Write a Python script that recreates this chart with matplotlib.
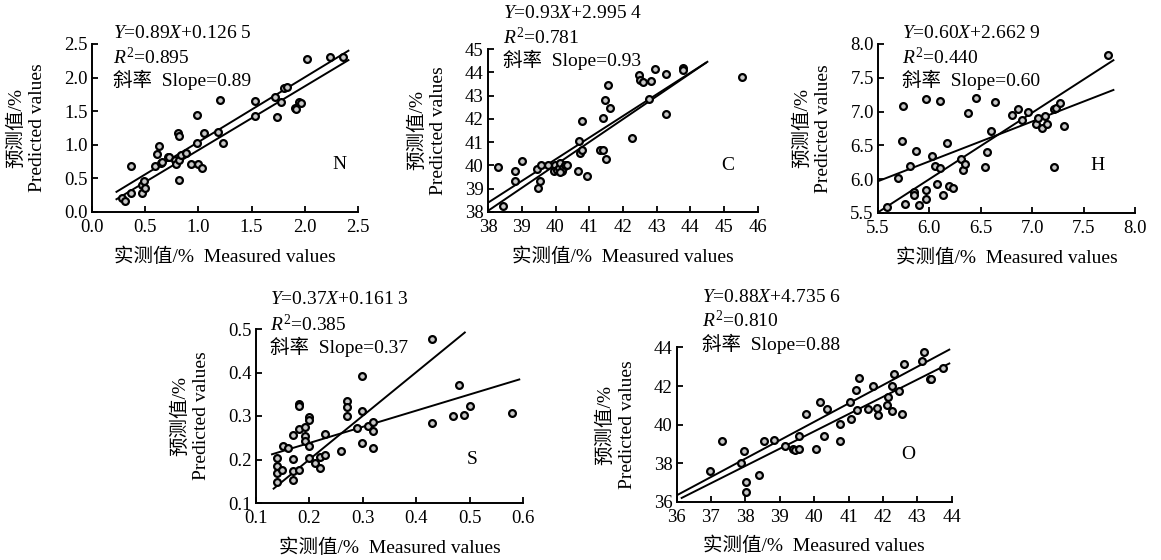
import numpy as np
import matplotlib
matplotlib.use('Agg')
import matplotlib.pyplot as plt

plt.rcParams['font.family'] = ['Liberation Serif', 'Noto Sans CJK SC']
plt.rcParams['mathtext.fontset'] = 'custom'
plt.rcParams['mathtext.rm'] = 'Liberation Serif'
plt.rcParams['mathtext.it'] = 'Liberation Serif:italic'

# =============================================================================
# Data
# =============================================================================
# N
n_x = [0.28, 0.31, 0.37, 0.37, 0.47, 0.47, 0.49, 0.50, 0.59, 0.61, 0.63, 0.65,
       0.66, 0.71, 0.72, 0.78, 0.79, 0.82, 0.81, 0.82, 0.82, 0.84, 0.88, 0.93,
       0.99, 0.99, 1.00, 1.03, 1.05, 1.18, 1.20, 1.23, 1.53, 1.53, 1.72, 1.74,
       1.78, 1.80, 1.83, 1.91, 1.92, 1.95, 1.96, 2.02, 2.24, 2.36]
n_y = [0.21, 0.17, 0.29, 0.68, 0.29, 0.40, 0.46, 0.36, 0.68, 0.87, 0.98, 0.73,
       0.74, 0.82, 0.82, 0.78, 0.71, 0.48, 1.18, 1.13, 0.78, 0.85, 0.88, 0.71,
       1.44, 1.02, 0.71, 0.65, 1.17, 1.19, 1.67, 1.02, 1.65, 1.43, 1.71, 1.41,
       1.64, 1.85, 1.86, 1.55, 1.53, 1.63, 1.62, 2.27, 2.31, 2.30]
n_lines = [([0.23, 2.41], [0.30, 2.40]), ([0.23, 2.41], [0.19, 2.26])]

# C
c_x = [38.31, 38.45, 38.81, 38.81, 39.02, 39.45, 39.47, 39.55, 39.57, 39.79,
       39.98, 39.95, 40.04, 40.11, 40.14, 40.19, 40.22, 40.14, 40.29, 40.34,
       40.66, 40.70, 40.73, 40.78, 40.78, 40.93, 41.32, 41.42, 41.40, 41.49,
       41.46, 41.55, 41.62, 42.26, 42.46, 42.50, 42.60, 42.78, 42.82, 42.95,
       43.27, 43.27, 43.78, 43.78, 45.53]
c_y = [39.92, 38.24, 39.75, 39.35, 40.20, 39.86, 39.03, 39.35, 40.00, 40.03,
       40.03, 39.78, 39.82, 39.89, 40.10, 39.78, 39.89, 39.72, 40.00, 40.03,
       39.75, 41.03, 40.53, 40.68, 41.92, 39.56, 40.68, 40.68, 42.04, 40.28,
       42.82, 43.47, 42.47, 41.18, 43.90, 43.68, 43.57, 42.85, 43.63, 44.14,
       42.21, 43.94, 44.18, 44.11, 43.78]
c_lines = [([38.0, 44.5], [38.40, 44.45]), ([38.0, 44.45], [38.05, 44.40])]

# H
h_x = [5.59, 5.69, 5.73, 5.74, 5.76, 5.81, 5.85, 5.85, 5.87, 5.90, 5.97, 5.97,
       5.97, 6.03, 6.05, 6.07, 6.10, 6.10, 6.13, 6.19, 6.23, 6.17, 6.31, 6.33,
       6.35, 6.38, 6.45, 6.54, 6.56, 6.60, 6.64, 6.80, 6.86, 6.90, 6.96, 7.04,
       7.06, 7.10, 7.12, 7.14, 7.21, 7.23, 7.21, 7.27, 7.31, 7.74]
h_y = [5.59, 6.02, 6.57, 7.09, 5.64, 6.20, 5.81, 5.77, 6.42, 5.62, 5.84, 5.71,
       7.18, 6.34, 6.20, 5.93, 6.16, 7.16, 5.76, 5.90, 5.87, 6.53, 6.30, 6.13,
       6.22, 6.98, 7.20, 6.18, 6.40, 6.72, 7.14, 6.95, 7.04, 6.87, 6.99, 6.82,
       6.91, 6.76, 6.94, 6.82, 7.04, 7.05, 6.18, 7.12, 6.79, 7.84]
h_lines = [([5.5, 7.79], [5.51, 7.76]), ([5.5, 7.79], [5.97, 7.32])]

# S
s_x = [0.140, 0.140, 0.140, 0.140, 0.148, 0.150, 0.159, 0.170, 0.170, 0.170,
       0.170, 0.180, 0.180, 0.180, 0.180, 0.191, 0.191, 0.191, 0.200, 0.200,
       0.200, 0.200, 0.210, 0.220, 0.220, 0.230, 0.230, 0.259, 0.270, 0.270,
       0.270, 0.289, 0.299, 0.299, 0.299, 0.310, 0.320, 0.320, 0.320, 0.429,
       0.429, 0.469, 0.480, 0.489, 0.500, 0.580]
s_y = [0.204, 0.184, 0.169, 0.148, 0.177, 0.231, 0.227, 0.256, 0.201, 0.174,
       0.154, 0.327, 0.323, 0.269, 0.177, 0.274, 0.254, 0.243, 0.298, 0.290,
       0.231, 0.204, 0.191, 0.206, 0.181, 0.259, 0.210, 0.220, 0.334, 0.320,
       0.300, 0.273, 0.393, 0.312, 0.239, 0.277, 0.287, 0.266, 0.227, 0.477,
       0.283, 0.300, 0.371, 0.302, 0.323, 0.306]
s_lines = [([0.133, 0.491], [0.133, 0.492]), ([0.130, 0.593], [0.212, 0.384])]

# O
o_x = [36.97, 37.31, 37.87, 37.96, 38.01, 38.01, 38.40, 38.54, 38.82, 39.15,
       39.38, 39.45, 39.56, 39.56, 39.75, 40.06, 40.18, 40.28, 40.38, 40.74,
       40.74, 41.04, 41.07, 41.21, 41.24, 41.30, 41.56, 41.72, 41.82, 41.86,
       42.11, 42.14, 42.25, 42.27, 42.32, 42.48, 42.55, 42.62, 43.13, 43.20,
       43.37, 43.39, 43.76, 43.72]
o_y = [37.62, 39.13, 38.03, 38.64, 37.05, 36.51, 37.39, 39.13, 39.20, 38.87,
       38.74, 38.66, 38.74, 39.42, 40.56, 38.74, 41.17, 39.40, 40.80, 40.04,
       39.13, 41.20, 40.30, 41.78, 40.77, 42.41, 40.80, 42.02, 40.87, 40.51,
       41.03, 41.41, 42.02, 40.73, 42.64, 41.72, 40.56, 43.16, 43.28, 43.75,
       42.36, 42.36, 42.93, 44.40]
o_lines = [([36.0, 43.93], [36.33, 43.89]), ([36.15, 43.93], [36.20, 43.17])]

eqs = ['0.89$\\mathit{X}$+0.126 5', '0.93$\\mathit{X}$+2.995 4', '0.60$\\mathit{X}$+2.662 9',
       '0.37$\\mathit{X}$+0.161 3', '0.88$\\mathit{X}$+4.735 6']
r2s = ['0.895', '0.781', '0.440', '0.385', '0.810']
slopes = ['0.89', '0.93', '0.60', '0.37', '0.88']
names = ['N', 'C', 'H', 'S', 'O']

# =============================================================================
# Layout
# =============================================================================
W, H = 1161, 560
# axes boxes in pixels: left, right, top, bottom
boxes = [(92, 358, 44, 212), (488, 758, 49, 212), (878, 1135, 44, 213),
         (256, 523, 329, 503), (676.5, 951.7, 347.5, 501.8)]
lims = [((0, 2.5), (0, 2.5)), ((38, 46), (38, 45)), ((5.5, 8.0), (5.5, 8.0)),
        ((0.1, 0.6), (0.1, 0.5)), ((36, 44), (36, 44))]
xticks = [np.arange(0, 2.51, 0.5), np.arange(38, 46.1, 1), np.arange(5.5, 8.01, 0.5),
          np.arange(0.1, 0.61, 0.1), np.arange(36, 44.1, 1)]
yticks = [np.arange(0, 2.51, 0.5), np.arange(38, 45.1, 1), np.arange(5.5, 8.01, 0.5),
          np.arange(0.1, 0.51, 0.1), np.arange(36, 44.1, 2)]
fmts = ['%.1f', '%d', '%.1f', '%.1f', '%d']
# text block top-left (pixels), letter label position (data)
txt_pos = [(113, 33), (503, 13), (902, 33), (270, 300), (702, 297)]
letter_pos = [(2.33, 0.70), (45.1, 40.0), (7.64, 6.21), (0.504, 0.199), (42.73, 38.43)]

xs = [n_x, c_x, h_x, s_x, o_x]
ys = [n_y, c_y, h_y, s_y, o_y]
lines = [n_lines, c_lines, h_lines, s_lines, o_lines]

fig = plt.figure(figsize=(W / 100, H / 100), dpi=100)

for i in range(5):
    l, r, t, b = boxes[i]
    ax = fig.add_axes([l / W, 1 - b / H, (r - l) / W, (b - t) / H])
    for lx, ly in lines[i]:
        ax.plot(lx, ly, color='black', lw=1.4, zorder=2)
    ax.scatter(xs[i], ys[i], s=24, facecolor='#c8c8c8', edgecolor='black',
               linewidth=1.6, zorder=3)
    ax.set_xlim(*lims[i][0])
    ax.set_ylim(*lims[i][1])
    ax.set_xticks(xticks[i])
    ax.set_yticks(yticks[i])
    ax.set_xticklabels([fmts[i] % v for v in xticks[i]])
    ax.set_yticklabels([fmts[i] % v for v in yticks[i]])
    ax.tick_params(direction='in', length=4, width=1.3, labelsize=13.5)
    ax.tick_params(axis='x', pad=5)
    ax.tick_params(axis='y', pad=3)
    for sp in ['top', 'right']:
        ax.spines[sp].set_visible(False)
    for sp in ['left', 'bottom']:
        ax.spines[sp].set_linewidth(1.4)
    ax.set_xlabel('实测值/%  Measured values', fontsize=14, labelpad=8)
    ax.set_ylabel('预测值/%\nPredicted values', fontsize=14, labelpad=13,
                  linespacing=1.3)
    ax.text(*letter_pos[i], names[i], fontsize=14, ha='center', va='center')

    tx, ty = txt_pos[i]
    fig.text(tx / W, 1 - ty / H, '$\\mathit{Y}$=' + eqs[i], fontsize=14,
             ha='left', va='center')
    fig.text(tx / W, 1 - (ty + 24) / H, '$\\mathit{R}^2$=' + r2s[i], fontsize=14,
             ha='left', va='center')
    fig.text(tx / W, 1 - (ty + 47) / H, '斜率  Slope=' + slopes[i], fontsize=14,
             ha='left', va='center')

fig.savefig('out.png', dpi=100)
